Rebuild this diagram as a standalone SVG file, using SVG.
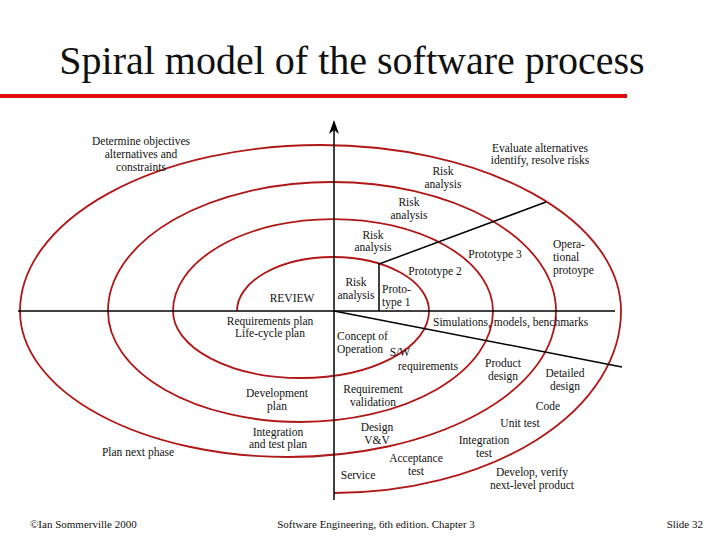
<svg xmlns="http://www.w3.org/2000/svg" width="717" height="538" viewBox="0 0 717 538">
<defs>
<style>
text{font-family:"Liberation Serif",serif;font-size:11.5px;fill:#111}
.c{text-anchor:middle}
.sp{fill:none;stroke:#b01818;stroke-width:1.8}
.ln{stroke:#000;stroke-width:1.5;fill:none}
</style>
<marker id="ar" markerWidth="14" markerHeight="10" refX="12" refY="5" orient="auto" markerUnits="userSpaceOnUse" viewBox="0 0 14 10"><path d="M14,5 L0,0 L4,5 L0,10 Z" fill="#000"/></marker>
</defs>
<rect width="717" height="538" fill="#fff"/>
<text x="352" y="74" class="c" style="font-size:40px">Spiral model of the software process</text>
<rect x="0" y="94" width="627" height="4" fill="#e01010"/>
<g id="spiral">
<path class="sp" d="M237,311 A96,54 0 0 1 429,311 A128,67 0 0 1 173,311 A160,92 0 0 1 493,311 A192.5,111 0 0 1 108,311 A224,129 0 0 1 556,311 A268,146 0 0 1 20,311 A300.5,166 0 0 1 621,311 A287,182 0 0 1 334,493"/>
</g>
<g id="connectors">
<line class="ln" x1="334" y1="500" x2="334" y2="122" marker-end="url(#ar)"/>
<line class="ln" x1="18" y1="311" x2="615" y2="311"/>
<polyline class="ln" points="379,311 379,264 546,202"/>
<line class="ln" x1="334" y1="311" x2="622" y2="367"/>
</g>
<g id="labels">
<text x="141" y="145" class="c">Determine objectives</text>
<text x="141" y="158" class="c">alternatives and</text>
<text x="141" y="171" class="c">constraints</text>
<text x="540" y="152" class="c">Evaluate alternatives</text>
<text x="540" y="164" class="c">identify, resolve risks</text>
<text x="443" y="175" class="c">Risk</text><text x="443" y="188" class="c">analysis</text>
<text x="409" y="206" class="c">Risk</text><text x="409" y="219" class="c">analysis</text>
<text x="373" y="239" class="c">Risk</text><text x="373" y="251" class="c">analysis</text>
<text x="356" y="286" class="c">Risk</text><text x="356" y="299" class="c">analysis</text>
<text x="382" y="293">Proto-</text><text x="382" y="306">type 1</text>
<text x="435" y="275" class="c">Prototype 2</text>
<text x="495" y="258" class="c">Prototype 3</text>
<text x="553" y="248">Opera-</text><text x="553" y="261">tional</text><text x="553" y="274">protoype</text>
<text x="292" y="302" class="c">REVIEW</text>
<text x="270" y="325" class="c">Requirements plan</text>
<text x="270" y="337" class="c">Life-cycle plan</text>
<text x="337" y="340">Concept of</text><text x="337" y="353">Operation</text>
<text x="433" y="326">Simulations, models, benchmarks</text>
<text x="400" y="356" class="c">S/W</text><text x="428" y="370" class="c">requirements</text>
<text x="503" y="367" class="c">Product</text><text x="503" y="380" class="c">design</text>
<text x="565" y="377" class="c">Detailed</text><text x="565" y="390" class="c">design</text>
<text x="373" y="393" class="c">Requirement</text><text x="373" y="406" class="c">validation</text>
<text x="277" y="397" class="c">Development</text><text x="277" y="410" class="c">plan</text>
<text x="548" y="410" class="c">Code</text>
<text x="520" y="427" class="c">Unit test</text>
<text x="377" y="431" class="c">Design</text><text x="377" y="444" class="c">V&amp;V</text>
<text x="278" y="436" class="c">Integration</text><text x="278" y="448" class="c">and test plan</text>
<text x="484" y="444" class="c">Integration</text><text x="484" y="457" class="c">test</text>
<text x="138" y="456" class="c">Plan next phase</text>
<text x="416" y="462" class="c">Acceptance</text><text x="416" y="475" class="c">test</text>
<text x="358" y="479" class="c">Service</text>
<text x="532" y="476" class="c">Develop, verify</text>
<text x="532" y="489" class="c">next-level product</text>
</g>
<text x="30" y="528" style="font-size:11px">©Ian Sommerville 2000</text>
<text x="376" y="528" class="c" style="font-size:11px">Software Engineering, 6th edition. Chapter 3</text>
<text x="703" y="528" style="font-size:11px;text-anchor:end">Slide  32</text>
</svg>
